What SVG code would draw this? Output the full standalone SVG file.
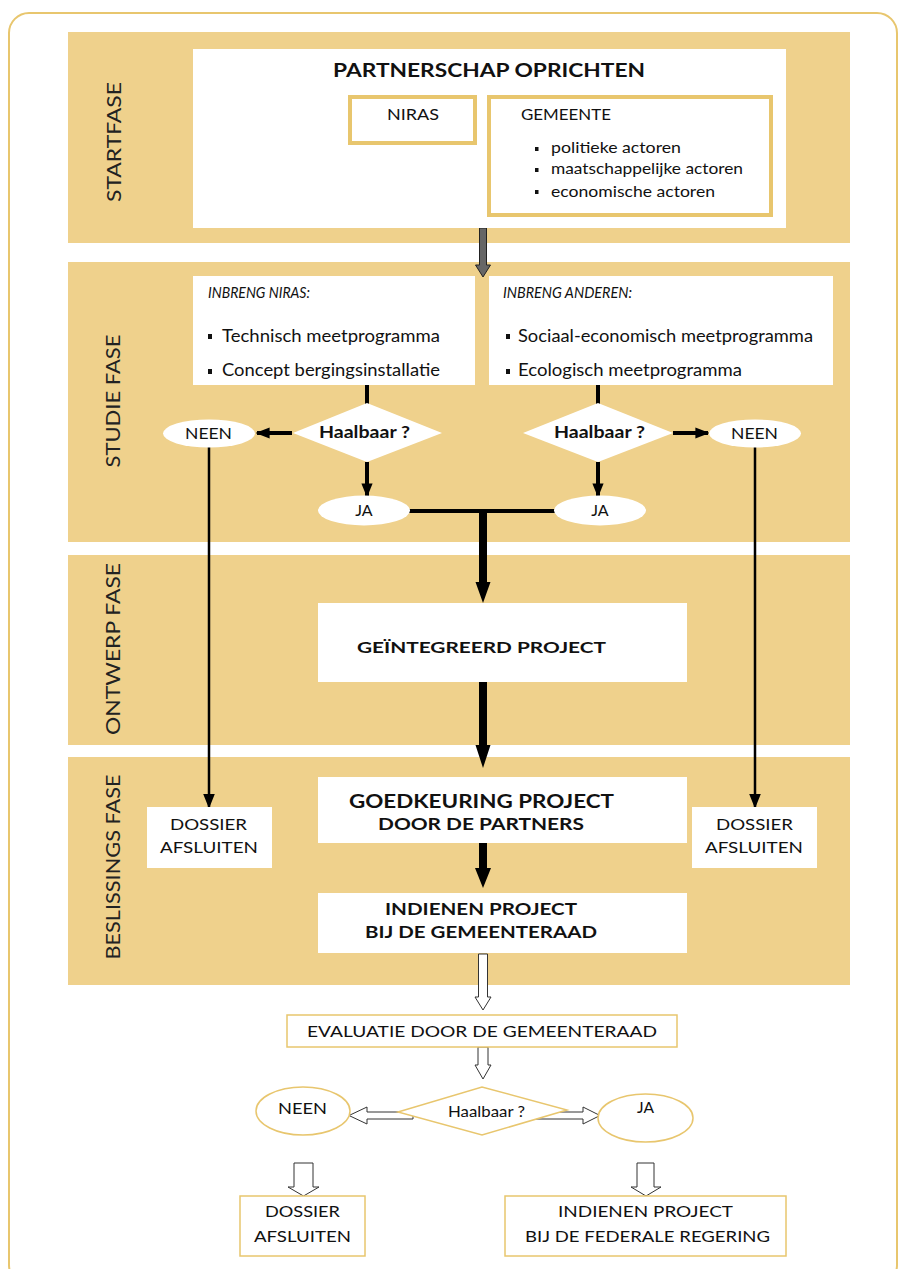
<svg xmlns="http://www.w3.org/2000/svg" width="903" height="1269" viewBox="0 0 903 1269">
<defs>
<style>
.band{fill:#efd18c}
.wb{fill:#fff}
.tb{fill:#fff;stroke:#e8c66e;stroke-width:4}
.tb2{fill:#fff;stroke:#e8c66e;stroke-width:1.5}
text{font-family:Lato,"Open Sans","Liberation Sans",sans-serif;fill:#111}
.b{font-weight:bold}
.phase{font-size:20px;fill:#222;text-anchor:middle}
.t16{font-size:16px}
.t17{font-size:17px}
.it{font-size:15px;font-style:italic}
.c{text-anchor:middle}
.ln{stroke:#000;fill:none}
.ho{fill:#fff;stroke:#333;stroke-width:1}
</style>
<marker id="ah" viewBox="0 0 10 10" refX="9" refY="5" markerWidth="3.5" markerHeight="3.5" orient="auto" markerUnits="strokeWidth"><path d="M0,1 L10,5 L0,9 z" fill="#000"/></marker>
<marker id="ah2" viewBox="0 0 10 10" refX="9" refY="5" markerWidth="6" markerHeight="6" orient="auto" markerUnits="strokeWidth"><path d="M0,1 L10,5 L0,9 z" fill="#000"/></marker>
</defs>
<rect x="9" y="13" width="888" height="1272" rx="20" fill="#fff" stroke="#e8c66e" stroke-width="2"/>

<g id="bands">
<rect class="band" x="68" y="32" width="782" height="211"/>
<rect class="band" x="68" y="262" width="782" height="280"/>
<rect class="band" x="68" y="555" width="782" height="190"/>
<rect class="band" x="68" y="757" width="782" height="228"/>
<text class="phase" transform="translate(121,142) rotate(-90)" textLength="120" lengthAdjust="spacingAndGlyphs">STARTFASE</text>
<text class="phase" transform="translate(120,401) rotate(-90)" textLength="133" lengthAdjust="spacingAndGlyphs">STUDIE FASE</text>
<text class="phase" transform="translate(120,649) rotate(-90)" textLength="172" lengthAdjust="spacingAndGlyphs">ONTWERP FASE</text>
<text class="phase" transform="translate(120,867) rotate(-90)" textLength="185" lengthAdjust="spacingAndGlyphs">BESLISSINGS FASE</text>
</g>

<g id="connectors">
<polygon points="479.5,228 486.5,228 486.5,265 490.5,265 483,277 475.5,265 479.5,265" fill="#666" stroke="#222" stroke-width="1"/>
<line class="ln" x1="367" y1="385" x2="367" y2="404" stroke-width="4"/>
<line class="ln" x1="598" y1="385" x2="598" y2="404" stroke-width="4"/>
<line class="ln" x1="292" y1="433" x2="257" y2="433" stroke-width="4" marker-end="url(#ah)"/>
<line class="ln" x1="673" y1="433" x2="708" y2="433" stroke-width="4" marker-end="url(#ah)"/>
<line class="ln" x1="367" y1="462" x2="367" y2="496" stroke-width="4" marker-end="url(#ah)"/>
<line class="ln" x1="598" y1="462" x2="598" y2="496" stroke-width="4" marker-end="url(#ah)"/>
<line class="ln" x1="409" y1="511" x2="555" y2="511" stroke-width="4"/>
<polygon points="479,509 487,509 487,582 490.5,582 483,603 475.5,582 479,582" fill="#000"/>
<polygon points="479,682 487,682 487,745 490.5,745 483,768 475.5,745 479,745" fill="#000"/>
<polygon points="479,843 487,843 487,868 491,868 483,888 475,868 479,868" fill="#000"/>
<line class="ln" x1="209" y1="447" x2="209" y2="807" stroke-width="2.5" marker-end="url(#ah2)"/>
<line class="ln" x1="755" y1="447" x2="755" y2="807" stroke-width="2.5" marker-end="url(#ah2)"/>
<polygon class="ho" points="478.5,954 487.5,954 487.5,997 491,997 483,1010 475,997 478.5,997"/>
<polygon class="ho" points="478,1047 488,1047 488,1065 491,1065 483,1079 475,1065 478,1065"/>
<polygon class="ho" points="413,1112 413,1119 367,1119 367,1124 349,1115.5 367,1107 367,1112"/>
<polygon class="ho" points="536,1112 536,1119 583,1119 583,1124 600,1115.5 583,1107 583,1112"/>
<polygon class="ho" points="294,1163 313,1163 313,1187 319,1187 303.5,1196 288,1187 294,1187"/>
<polygon class="ho" points="637,1163 654,1163 654,1187 661,1187 646,1196 631,1187 637,1187"/>
</g>

<g id="partnerschap">
<rect class="wb" x="193" y="49" width="593" height="179"/>
<text class="b" x="333" y="77" font-size="18" textLength="312" lengthAdjust="spacingAndGlyphs">PARTNERSCHAP OPRICHTEN</text>
</g>
<g id="niras">
<rect class="tb" x="350" y="97" width="125" height="46"/>
<text class="t16" x="387" y="120" textLength="52" lengthAdjust="spacingAndGlyphs">NIRAS</text>
</g>
<g id="gemeente">
<rect class="tb" x="489" y="97" width="282" height="118"/>
<text class="t16" x="521" y="120" textLength="90" lengthAdjust="spacingAndGlyphs">GEMEENTE</text>
<rect x="535" y="147" width="3.5" height="4" fill="#111"/>
<rect x="535" y="168" width="3.5" height="4" fill="#111"/>
<rect x="535" y="190" width="3.5" height="4" fill="#111"/>
<text class="t16" x="551" y="153" textLength="130" lengthAdjust="spacingAndGlyphs">politieke actoren</text>
<text class="t16" x="551" y="174" textLength="192" lengthAdjust="spacingAndGlyphs">maatschappelijke actoren</text>
<text class="t16" x="551" y="197" textLength="164" lengthAdjust="spacingAndGlyphs">economische actoren</text>
</g>

<g id="inbreng-niras">
<rect class="wb" x="193" y="276" width="282" height="109"/>
<text class="it" x="208" y="298" textLength="102" lengthAdjust="spacingAndGlyphs">INBRENG NIRAS:</text>
<rect x="208" y="334" width="4" height="5" fill="#111"/>
<rect x="208" y="369" width="4" height="5" fill="#111"/>
<text class="t17" x="222" y="342" textLength="218" lengthAdjust="spacingAndGlyphs">Technisch meetprogramma</text>
<text class="t17" x="222" y="376" textLength="218" lengthAdjust="spacingAndGlyphs">Concept bergingsinstallatie</text>
</g>
<g id="inbreng-anderen">
<rect class="wb" x="489" y="276" width="344" height="109"/>
<text class="it" x="503" y="298" textLength="129" lengthAdjust="spacingAndGlyphs">INBRENG ANDEREN:</text>
<rect x="506" y="334" width="4" height="5" fill="#111"/>
<rect x="506" y="369" width="4" height="5" fill="#111"/>
<text class="t17" x="518" y="342" textLength="295" lengthAdjust="spacingAndGlyphs">Sociaal-economisch meetprogramma</text>
<text class="t17" x="518" y="376" textLength="224" lengthAdjust="spacingAndGlyphs">Ecologisch meetprogramma</text>
</g>
<g id="haalbaar-l">
<polygon class="wb" points="293,433 367,403 442,433 367,462"/>
<text class="b t17" x="319" y="438" textLength="91" lengthAdjust="spacingAndGlyphs">Haalbaar ?</text>
</g>
<g id="haalbaar-r">
<polygon class="wb" points="523,433 598,403 673,433 598,462"/>
<text class="b t17" x="554" y="438" textLength="91" lengthAdjust="spacingAndGlyphs">Haalbaar ?</text>
</g>
<g id="neen-l"><ellipse class="wb" cx="209" cy="433.5" rx="46" ry="14"/><text class="t16" x="185" y="439" textLength="47" lengthAdjust="spacingAndGlyphs">NEEN</text></g>
<g id="neen-r"><ellipse class="wb" cx="755" cy="433.5" rx="46" ry="14"/><text class="t16" x="731" y="439" textLength="47" lengthAdjust="spacingAndGlyphs">NEEN</text></g>
<g id="ja-l"><ellipse class="wb" cx="364" cy="510.5" rx="46" ry="15"/><text class="t16 c" x="364" y="516">JA</text></g>
<g id="ja-r"><ellipse class="wb" cx="600" cy="510.5" rx="46" ry="15"/><text class="t16 c" x="600" y="516">JA</text></g>

<g id="geintegreerd">
<rect class="wb" x="318" y="603" width="369" height="79"/>
<text class="b t16" x="357" y="653" textLength="249" lengthAdjust="spacingAndGlyphs">GEÏNTEGREERD PROJECT</text>
</g>
<g id="goedkeuring">
<rect class="wb" x="318" y="777" width="369" height="66"/>
<text class="b" x="349" y="808" font-size="19" textLength="265" lengthAdjust="spacingAndGlyphs">GOEDKEURING PROJECT</text>
<text class="b t17" x="378" y="830" textLength="206" lengthAdjust="spacingAndGlyphs">DOOR DE PARTNERS</text>
</g>
<g id="indienen-gr">
<rect class="wb" x="318" y="893" width="369" height="60"/>
<text class="b t17" x="385" y="915" textLength="192" lengthAdjust="spacingAndGlyphs">INDIENEN PROJECT</text>
<text class="b t17" x="365" y="938" textLength="232" lengthAdjust="spacingAndGlyphs">BIJ DE GEMEENTERAAD</text>
</g>
<g id="dossier-l">
<rect class="wb" x="147" y="807" width="125" height="61"/>
<text class="t16" x="170" y="830" textLength="77" lengthAdjust="spacingAndGlyphs">DOSSIER</text>
<text class="t16" x="160" y="853" textLength="98" lengthAdjust="spacingAndGlyphs">AFSLUITEN</text>
</g>
<g id="dossier-r">
<rect class="wb" x="692" y="807" width="125" height="61"/>
<text class="t16" x="716" y="830" textLength="77" lengthAdjust="spacingAndGlyphs">DOSSIER</text>
<text class="t16" x="705" y="853" textLength="98" lengthAdjust="spacingAndGlyphs">AFSLUITEN</text>
</g>

<g id="evaluatie">
<rect class="tb2" x="287" y="1015" width="390" height="32"/>
<text class="t16" x="307" y="1037" textLength="350" lengthAdjust="spacingAndGlyphs">EVALUATIE DOOR DE GEMEENTERAAD</text>
</g>
<g id="haalbaar-b">
<polygon class="tb2" points="398,1112 482,1087 567,1110 482,1135"/>
<text class="t16" x="448" y="1117" textLength="77" lengthAdjust="spacingAndGlyphs">Haalbaar ?</text>
</g>
<g id="neen-b"><ellipse class="tb2" cx="303" cy="1111" rx="47" ry="24"/><text class="t16" x="278" y="1114" textLength="49" lengthAdjust="spacingAndGlyphs">NEEN</text></g>
<g id="ja-b"><ellipse class="tb2" cx="645.5" cy="1118" rx="47.5" ry="24"/><text class="t16" x="637" y="1113" textLength="17" lengthAdjust="spacingAndGlyphs">JA</text></g>
<g id="dossier-b">
<rect class="tb2" x="240" y="1196" width="125" height="60"/>
<text class="t16" x="265" y="1217" textLength="75" lengthAdjust="spacingAndGlyphs">DOSSIER</text>
<text class="t16" x="254" y="1242" textLength="97" lengthAdjust="spacingAndGlyphs">AFSLUITEN</text>
</g>
<g id="indienen-fed">
<rect class="tb2" x="505" y="1196" width="281" height="60"/>
<text class="t16" x="558" y="1217" textLength="175" lengthAdjust="spacingAndGlyphs">INDIENEN PROJECT</text>
<text class="t16" x="525" y="1242" textLength="245" lengthAdjust="spacingAndGlyphs">BIJ DE FEDERALE REGERING</text>
</g>
</svg>
